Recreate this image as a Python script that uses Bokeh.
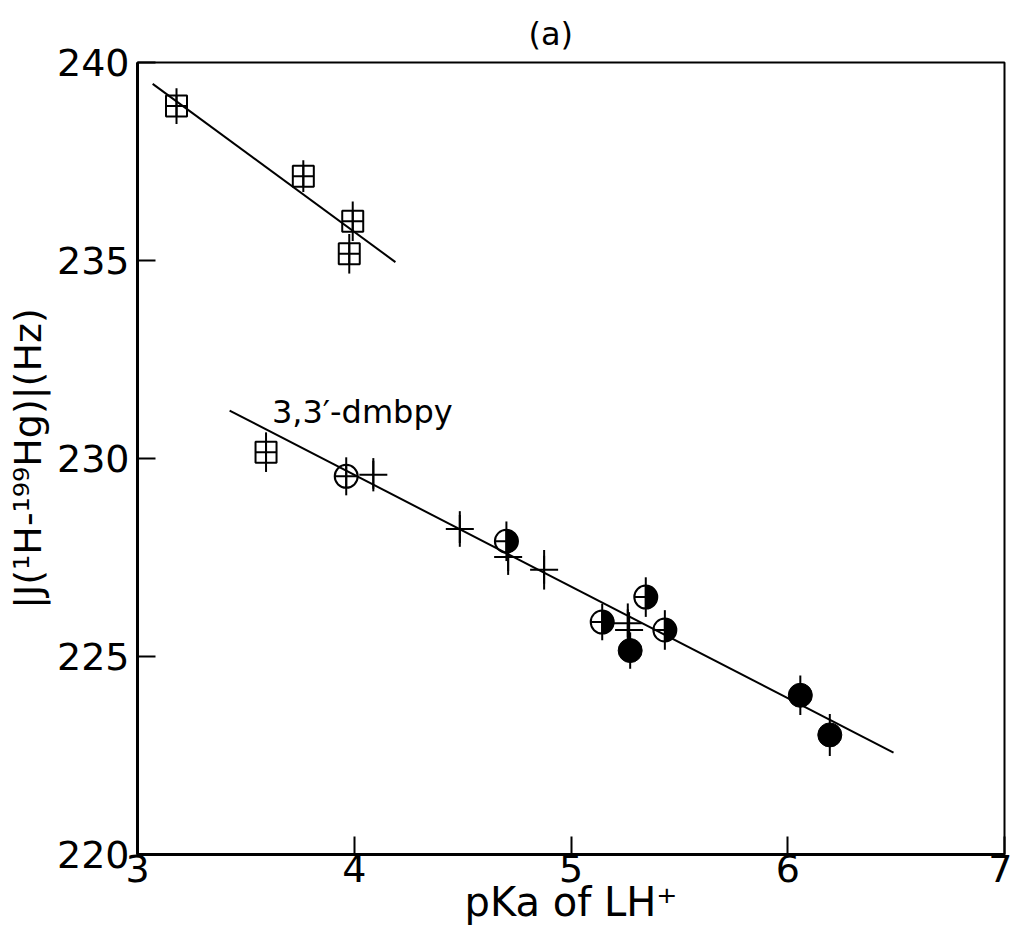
import math
from bokeh.plotting import figure
from bokeh.models import FixedTicker, Range1d, Label
from bokeh.embed import file_html
from bokeh.resources import INLINE

# ---- data ----
x_ticks = [3, 4, 5, 6, 7]
y_ticks = [220, 225, 230, 235, 240]

# squares with cross (upper series + one point on lower line)
sq_x = [3.18, 3.765, 3.993, 3.977, 3.593]
sq_y = [238.9, 237.13, 235.99, 235.17, 230.16]
sq_err = [0.45, 0.40, 0.50, 0.50, 0.50]

# open circle
oc_x = [3.963]
oc_y = [229.55]
oc_err = [0.48]

# plus signs
cr_x = [4.088, 4.487, 4.710, 4.876, 5.262, 5.268]
cr_y = [229.59, 228.22, 227.51, 227.19, 225.84, 225.67]
cr_err = [0.42, 0.45, 0.45, 0.50, 0.50, 0.45]

# half-filled circles
hc_x = [4.702, 5.144, 5.345, 5.433]
hc_y = [227.91, 225.87, 226.50, 225.67]
hc_err = [0.50, 0.46, 0.50, 0.50]

# filled circles
fc_x = [5.273, 6.058, 6.194]
fc_y = [225.15, 224.02, 223.02]
fc_err = [0.46, 0.50, 0.53]

# fitted lines
fit1_x = [3.07, 4.19]
fit1_y = [239.46, 234.96]
fit2_x = [3.425, 6.488]
fit2_y = [231.21, 222.57]

FONT = "DejaVu Sans"

p = figure(width=1012, height=927, output_backend="svg", toolbar_location=None,
           x_range=Range1d(3, 7), y_range=Range1d(220, 240),
           min_border_left=137, min_border_right=8, min_border_top=62,
           min_border_bottom=73, background_fill_color="white",
           border_fill_color="white")

p.title.text = "(a)"
p.title.align = "left"
p.title.text_font = FONT
p.title.text_font_size = "32px"
p.title.text_font_style = "normal"
p.title.text_color = "black"
p.title.offset = 391
p.title.standoff = 20

p.grid.visible = False
p.outline_line_color = "black"
p.outline_line_width = 2
p.outline_line_alpha = 1

for ax in (p.xaxis[0], p.yaxis[0]):
    ax.axis_line_width = 3
    ax.axis_line_color = "black"
    ax.major_tick_in = 18
    ax.major_tick_out = 0
    ax.major_tick_line_width = 2
    ax.major_tick_line_color = "black"
    ax.minor_tick_line_color = None
    ax.major_label_text_font = FONT
    ax.major_label_text_color = "black"
    ax.axis_label_text_font = FONT
    ax.axis_label_text_font_style = "normal"
    ax.axis_label_text_color = "black"

p.xaxis.ticker = FixedTicker(ticks=x_ticks)
p.yaxis.ticker = FixedTicker(ticks=y_ticks)
p.xaxis.major_label_text_font_size = "38px"
p.yaxis.major_label_text_font_size = "38px"
p.xaxis.major_label_standoff = 0
p.yaxis.major_label_standoff = 8
p.xaxis.axis_label = "pKa of LH\u207a"
p.yaxis.axis_label = "|J(\u00b9H-\u00b9\u2079\u2079Hg)|(Hz)"
p.xaxis.axis_label_text_font_size = "40px"
p.yaxis.axis_label_text_font_size = "38px"
p.xaxis.axis_label_standoff = -6
p.yaxis.axis_label_standoff = 4

# fitted lines
p.line(fit1_x, fit1_y, line_color="black", line_width=2)
p.line(fit2_x, fit2_y, line_color="black", line_width=2)


def err_bars(xs, ys, es):
    p.segment(x0=xs, y0=[y - e for y, e in zip(ys, es)],
              x1=xs, y1=[y + e for y, e in zip(ys, es)],
              line_color="black", line_width=2)


for xs, ys, es in ((sq_x, sq_y, sq_err), (oc_x, oc_y, oc_err), (cr_x, cr_y, cr_err),
                   (hc_x, hc_y, hc_err), (fc_x, fc_y, fc_err)):
    err_bars(xs, ys, es)

p.scatter(sq_x, sq_y, marker="square_cross", size=21, fill_color=None,
          line_color="black", line_width=2)
p.scatter(oc_x, oc_y, marker="circle_cross", size=23, fill_color=None,
          line_color="black", line_width=2)
p.scatter(cr_x, cr_y, marker="cross", size=28, line_color="black", line_width=2)
p.scatter(hc_x, hc_y, marker="circle_cross", size=23, fill_color=None,
          line_color="black", line_width=2)
p.wedge(hc_x, hc_y, radius=11.5, radius_units="screen",
        start_angle=-math.pi / 2, end_angle=math.pi / 2,
        fill_color="black", line_color="black", line_width=1)
p.scatter(fc_x, fc_y, marker="circle", size=24, fill_color="black",
          line_color="black", line_width=1)

p.add_layout(Label(x=3.62, y=230.7, text="3,3\u2032-dmbpy", text_font=FONT,
                   text_font_size="32px", text_color="black"))

open("out.html", "w").write(file_html(p, INLINE))
